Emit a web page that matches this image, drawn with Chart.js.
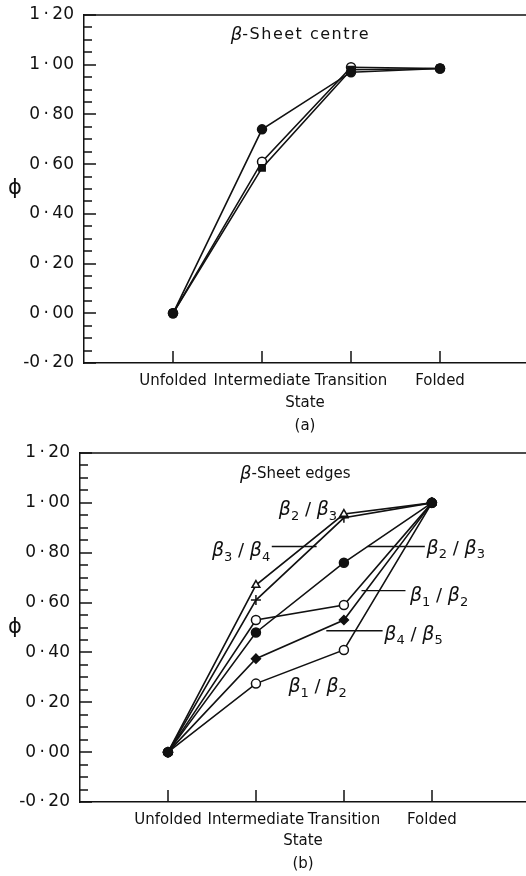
<!DOCTYPE html>
<html>
<head>
<meta charset="utf-8">
<script src="https://cdn.jsdelivr.net/npm/chart.js@4.4.0/dist/chart.umd.min.js"></script>
<style>
  body { margin: 0; background: #fff; }
  canvas { display: block; }
</style>
</head>
<body>
<canvas id="centre" width="526" height="440"></canvas>
<canvas id="edges" width="526" height="436"></canvas>
<script>
// States along the folding pathway, plotted at x = 0..3
const states = ["Unfolded", "Intermediate", "Transition", "Folded"]

// (a) beta-sheet centre, phi per state
const centreFilledCircle = [0, 0.74, 0.97, 0.985]
const centreOpenCircle = [0, 0.61, 0.99, 0.985]
const centreFilledSquare = [0, 0.585, 0.98, 0.985]

// (b) beta-sheet edges, phi per state
const edgeFilledCircle = [0, 0.48, 0.76, 1.0]
const edgeOpenTriangle = [0, 0.67, 0.955, 1.0]
const edgePlus = [0, 0.61, 0.94, 1.0]
const edgeOpenCircle = [0, 0.53, 0.59, 1.0]
const edgeFilledDiamond = [0, 0.375, 0.53, 1.0]
const edgeOpenCircleLow = [0, 0.275, 0.41, 1.0]

// strand pairs named on panel (b)
const edgePairs = [["2", "3"], ["3", "4"], ["2", "3"], ["1", "2"], ["4", "5"], ["1", "2"]]

const ink = "#111"
const fontFamily = "'DejaVu Sans', sans-serif"
const thin = "\u2009"

function isMajor(v) {
  const r = v / 0.2
  return Math.abs(r - Math.round(r)) < 1e-6
}

// 0.8 -> "0 · 80" with thin spaces around the raised point
function fmtPhi(v) {
  return (Math.round(v * 100) / 100).toFixed(2).replace(".", thin + "·" + thin)
}

function series(values, style, fill) {
  return {
    data: values.map((v, i) => ({ x: i, y: v })),
    borderColor: ink,
    borderWidth: 1.6,
    pointStyle: style,
    pointRadius: style === "cross" ? 5 : 4.5,
    pointBorderWidth: 1.5,
    pointBorderColor: ink,
    pointBackgroundColor: fill ? ink : "#fff",
    tension: 0,
  }
}

// draws "β_a / β_b" with subscripts, left edge at (x, y)
function drawPair(ctx, pair, x, y) {
  const big = "italic 19px " + fontFamily
  const small = "13px " + fontFamily
  let cx = x
  const part = (txt, font, dy) => {
    ctx.font = font
    ctx.fillText(txt, cx, y + dy)
    cx += ctx.measureText(txt).width
  }
  part("β", big, 0)
  part(pair[0], small, 6)
  part(" / ", "18px " + fontFamily, 0)
  part("β", big, 0)
  part(pair[1], small, 6)
}

// inward ticks, top frame line, phi symbol, panel heading and pair labels
const panelText = {
  id: "panelText",
  afterDraw(chart, args, opts) {
    const { ctx, chartArea: a, scales: { x, y } } = chart
    ctx.save()
    ctx.strokeStyle = ink
    ctx.fillStyle = ink
    ctx.lineWidth = 1.5

    ctx.beginPath()
    ctx.moveTo(a.left, a.top)
    ctx.lineTo(a.right, a.top)
    ctx.stroke()

    y.ticks.forEach(t => {
      const py = Math.round(y.getPixelForValue(t.value))
      const len = isMajor(t.value) ? 12 : 8
      ctx.beginPath()
      ctx.moveTo(a.left, py)
      ctx.lineTo(a.left + len, py)
      ctx.stroke()
    })
    states.forEach((s, i) => {
      const px = Math.round(x.getPixelForValue(i))
      ctx.beginPath()
      ctx.moveTo(px, a.bottom)
      ctx.lineTo(px, a.bottom - 12)
      ctx.stroke()
    })

    ctx.textBaseline = "middle"
    ctx.textAlign = "center"
    ctx.font = "21px " + fontFamily
    ctx.fillText("ϕ", 15, (a.top + a.bottom) / 2)

    // panel heading
    const h = opts.heading
    ctx.textAlign = "left"
    const hx = x.getPixelForValue(h.x)
    const hy = y.getPixelForValue(h.y)
    ctx.font = "italic 18px " + fontFamily
    ctx.fillText("β", hx, hy)
    const bw = ctx.measureText("β").width
    ctx.font = h.size + "px " + fontFamily
    ctx.letterSpacing = h.spacing + "px"
    ctx.fillText(h.text, hx + bw, hy)
    ctx.letterSpacing = "0px"

    // pair labels with leader lines
    ctx.lineWidth = 1.3
    ;(opts.pairs || []).forEach((p, i) => {
      drawPair(ctx, edgePairs[i], x.getPixelForValue(p.x), y.getPixelForValue(p.y))
      if (p.lead) {
        const ly = y.getPixelForValue(p.lead[2])
        ctx.beginPath()
        ctx.moveTo(x.getPixelForValue(p.lead[0]), ly)
        ctx.lineTo(x.getPixelForValue(p.lead[1]), ly)
        ctx.stroke()
      }
    })
    ctx.restore()
  },
}

function panelOptions(cfg) {
  return {
    responsive: false,
    animation: false,
    devicePixelRatio: 1,
    layout: { autoPadding: false, padding: { top: cfg.top, left: 0, right: 0, bottom: 0 } },
    plugins: {
      legend: { display: false },
      tooltip: { enabled: false },
      panelText: cfg.text,
    },
    scales: {
      x: {
        type: "linear",
        min: -1,
        max: cfg.xMax,
        afterFit: s => {
          s.height = cfg.xHeight
          s.paddingLeft = 0
          s.paddingRight = 0
        },
        grid: { display: false, drawTicks: false },
        border: { color: ink, width: 1.5 },
        ticks: {
          stepSize: 1,
          includeBounds: false,
          autoSkip: false,
          maxRotation: 0,
          padding: 9,
          color: ink,
          font: { family: fontFamily, size: 15 },
          callback: v => states[v] ?? "",
        },
        title: {
          display: true,
          text: ["State", cfg.tag],
          color: ink,
          font: { family: fontFamily, size: 15, lineHeight: 1.5 },
          padding: { top: 0, bottom: cfg.titlePad },
        },
      },
      y: {
        type: "linear",
        min: -0.2,
        max: 1.2,
        afterFit: s => {
          s.width = cfg.yWidth
          s.paddingTop = 0
          s.paddingBottom = 0
        },
        grid: { display: false, drawTicks: false },
        border: { color: ink, width: 1.5 },
        ticks: {
          stepSize: 0.05,
          autoSkip: false,
          padding: 10,
          color: ink,
          font: { family: fontFamily, size: 17 },
          callback: v => (isMajor(v) ? fmtPhi(v) : ""),
        },
      },
    },
  }
}

new Chart(document.getElementById("centre"), {
  type: "line",
  data: {
    datasets: [
      series(centreFilledCircle, "circle", true),
      series(centreFilledSquare, "rect", true),
      series(centreOpenCircle, "circle", false),
    ],
  },
  options: panelOptions({
    top: 15, xHeight: 77, yWidth: 84, xMax: 3.966, tag: "(a)", titlePad: 3,
    text: { heading: { x: 0.65, y: 1.12, text: "-Sheet centre", size: 16, spacing: 1.5 } },
  }),
  plugins: [panelText],
})

new Chart(document.getElementById("edges"), {
  type: "line",
  data: {
    datasets: [
      series(edgeFilledCircle, "circle", true),
      series(edgeOpenTriangle, "triangle", false),
      series(edgePlus, "cross", false),
      series(edgeOpenCircle, "circle", false),
      series(edgeFilledDiamond, "rectRot", true),
      series(edgeOpenCircleLow, "circle", false),
    ],
  },
  options: panelOptions({
    top: 13, xHeight: 74, yWidth: 80, xMax: 4.07, tag: "(b)", titlePad: 1,
    text: {
      heading: { x: 0.82, y: 1.115, text: "-Sheet edges", size: 15, spacing: 0 },
      pairs: [
        { x: 1.26, y: 0.97 },
        { x: 0.5, y: 0.805, lead: [1.18, 1.69, 0.825] },
        { x: 2.94, y: 0.815, lead: [2.27, 2.92, 0.825] },
        { x: 2.75, y: 0.625, lead: [2.2, 2.7, 0.648] },
        { x: 2.46, y: 0.47, lead: [1.8, 2.44, 0.487] },
        { x: 1.37, y: 0.26 },
      ],
    },
  }),
  plugins: [panelText],
})
</script>
</body>
</html>
